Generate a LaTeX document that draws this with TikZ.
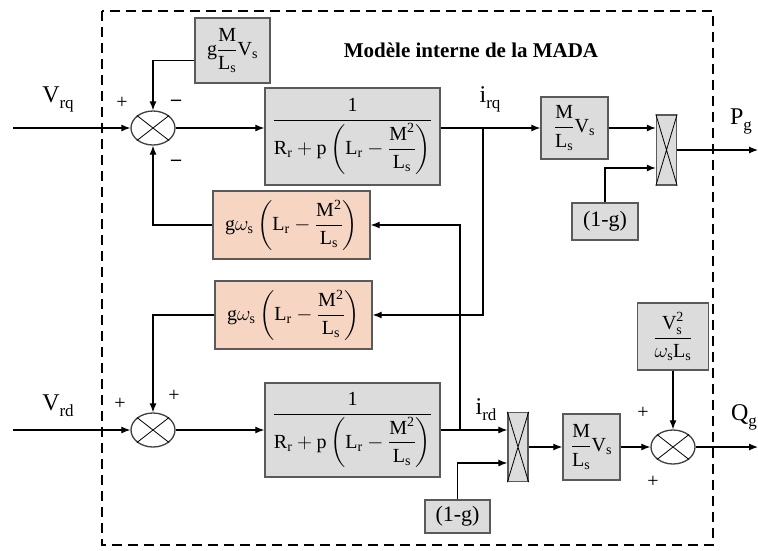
\documentclass[tikz,border=0pt]{standalone}
\usepackage{amsmath}
\usepackage{fontspec}
\setmainfont{Liberation Serif}
\usepackage{tikz}
\usetikzlibrary{shapes.geometric}
\usetikzlibrary{arrows.meta}
\definecolor{boxgray}{HTML}{DCDCDC}
\definecolor{boxpink}{HTML}{F7D5C3}
\definecolor{edgegray}{HTML}{5A5A5A}
\newcommand{\crossx}[1]{\draw[line width=0.8pt] (#1.north west) -- (#1.south east) (#1.north east) -- (#1.south west);}
\newcommand{\up}[1]{\mathrm{#1}}
\newcommand{\lsub}[1]{\raisebox{-6pt}{\fontsize{17}{19}\selectfont #1}}

\begin{document}
\begin{tikzpicture}[x=1pt, y=-1pt,
    blk/.style={draw=edgegray, fill=boxgray, line width=1.4pt, inner sep=0pt, font=\fontsize{20}{22}\selectfont},
    pinkblk/.style={blk, fill=boxpink},
    summer/.style={ellipse, draw=black!75, line width=1.3pt, minimum width=44pt, minimum height=34pt, inner sep=0pt},
    mult/.style={draw=edgegray, fill=boxgray, line width=1.3pt, minimum width=20pt, inner sep=0pt},
    sig/.style={line width=1.2pt, -{Latex[length=9pt,width=7pt]}},
    lbl/.style={font=\fontsize{24}{26}\selectfont},
    sgn/.style={font=\fontsize{20}{22}\selectfont},
    neg/.style={font=\bfseries\fontsize{20}{22}\selectfont}]
    \useasboundingbox (0,0) rectangle (758,550);
    % frame
    \draw[line width=2.2pt, dash pattern=on 10pt off 6pt] (102,11) rectangle (713,545);
    \node[font=\bfseries\fontsize{21}{23}\selectfont] (title) at (471,50) {Modèle interne de la MADA};
    % q axis
    \coordinate (vrqin) at (13,128);
    \node[lbl] (vrq) at (58,99) {V\lsub{rq}};
    \node[summer] (s1) at (153,128) {};
    \crossx{s1}
    \node[blk, minimum width=75pt, minimum height=65pt] (gmv) at (232.5,50.5) {$\up{g}\dfrac{\up{M}}{\up{L_s}}\up{V_s}$};
    \node[blk, minimum width=175pt, minimum height=97pt] (tfq) at (352.5,136.5) {$\dfrac{\up{1}}{\up{R_r}+\up{p}\left(\up{L_r}-\dfrac{\up{M^2}}{\up{L_s}}\right)}$};
    \node[blk, minimum width=67pt, minimum height=62pt] (mvq) at (574.5,128) {$\dfrac{\up{M}}{\up{L_s}}\up{V_s}$};
    \node[mult, minimum height=70pt] (mq) at (666.5,150) {};
    \crossx{mq}
    \node[blk, minimum width=66pt, minimum height=37pt, font=\fontsize{22}{24}\selectfont] (oneg1) at (605,221.5) {(1-g)};
    \node[lbl] (irq) at (490,99) {i\lsub{rq}};
    \node[lbl] (pg) at (741,121) {P\lsub{g}};
    \coordinate (pgout) at (758,150);
    \coordinate (bq) at (483,128);
    % cross coupling
    \node[pinkblk, minimum width=157pt, minimum height=68pt] (gw1) at (291.5,225) {$\up{g}\omega_{\up{s}}\left(\up{L_r}-\dfrac{\up{M^2}}{\up{L_s}}\right)$};
    \node[pinkblk, minimum width=157pt, minimum height=68pt] (gw2) at (293.5,315) {$\up{g}\omega_{\up{s}}\left(\up{L_r}-\dfrac{\up{M^2}}{\up{L_s}}\right)$};
    % d axis
    \coordinate (vrdin) at (13,430);
    \node[lbl] (vrd) at (58,406) {V\lsub{rd}};
    \node[summer] (s2) at (153,430) {};
    \crossx{s2}
    \node[blk, minimum width=175pt, minimum height=94pt] (tfd) at (352.5,430) {$\dfrac{\up{1}}{\up{R_r}+\up{p}\left(\up{L_r}-\dfrac{\up{M^2}}{\up{L_s}}\right)}$};
    \node[mult, minimum height=69pt] (md) at (518,447) {};
    \crossx{md}
    \node[blk, minimum width=65pt, minimum height=33pt, font=\fontsize{22}{24}\selectfont] (oneg2) at (457.5,516.5) {(1-g)};
    \node[blk, minimum width=57pt, minimum height=66pt] (mvd) at (591.5,447) {$\dfrac{\up{M}}{\up{L_s}}\up{V_s}$};
    \node[summer] (s3) at (673,447) {};
    \crossx{s3}
    \node[blk, minimum width=71pt, minimum height=67pt] (vsq) at (673,336.5) {$\dfrac{\up{V}_{\up{s}}^{\up{2}}}{\omega_{\up{s}}\up{L_s}}$};
    \node[lbl] (irdl) at (486,410) {i\lsub{rd}};
    \node[lbl] (qg) at (744,417) {Q\lsub{g}};
    \coordinate (qgout) at (758,447);
    \coordinate (bd) at (460,430);
    % signs
    \node[sgn] (p1) at (122,103) {+};
    \node[neg] (m1) at (176,103) {--};
    \node[neg] (m2) at (176,163) {--};
    \node[sgn] (p2) at (120,404) {+};
    \node[sgn] (p3) at (174,396) {+};
    \node[sgn] (p4) at (643,413) {+};
    \node[sgn] (p5) at (653,482) {+};
    % q wires
    \draw[sig] (vrqin) -- (s1.west);
    \draw[sig] ([yshift=-10pt]gmv.west) -| (s1.north);
    \draw[sig] (s1.east) -- (s1.east -| tfq.west);
    \draw[sig] (tfq.east |- bq) -- (mvq.west);
    \draw[sig] (mvq.east) -- (mvq.east -| mq.west);
    \draw[sig] (oneg1.north) |- ([yshift=-18pt]mq.west);
    \draw[sig] (mq.east) -- (pgout);
    \draw[sig] (gw1.west) -| (s1.south);
    % d wires
    \draw[sig] (vrdin) -- (s2.west);
    \draw[sig] (gw2.west) -| (s2.north);
    \draw[sig] (s2.east) -- (s2.east -| tfd.west);
    \draw[sig] (tfd.east |- bd) -- (bd -| md.west);
    \draw[sig] (oneg2.north) |- ([yshift=-16pt]md.west);
    \draw[sig] (md.east) -- (mvd.west);
    \draw[sig] (mvd.east) -- (s3.west);
    \draw[sig] (vsq.south) -- (s3.north);
    \draw[sig] (s3.east) -- (qgout);
    % coupling wires
    \draw[sig] (bq) |- (gw2.east);
    \draw[sig] (bd) |- (gw1.east);
\end{tikzpicture}
\end{document}
